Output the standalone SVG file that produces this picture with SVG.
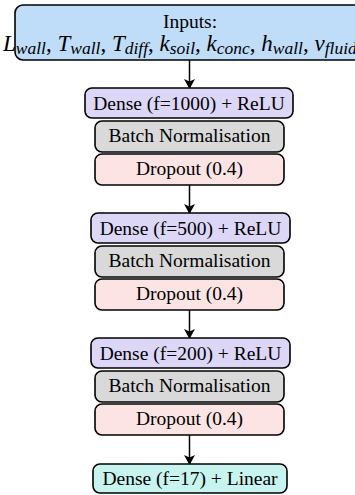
<svg xmlns="http://www.w3.org/2000/svg" width="355" height="495" viewBox="0 0 355 495">
  <defs>
    <marker id="arrow" markerWidth="10" markerHeight="11" refX="9" refY="5.5" orient="auto" markerUnits="userSpaceOnUse">
      <path d="M0,0 L10,5.5 L0,11 L2.5,5.5 Z" fill="#000"/>
    </marker>
    <style>
      .box { stroke: #000; stroke-width: 1.6; }
      .inp { fill: #bfdcf8; }
      .dense { fill: #dcd7f7; }
      .bn { fill: #d9d9d9; }
      .drop { fill: #fde4e4; }
      .out { fill: #c8f4ef; }
      .lbl { font-size: 19.5px; fill: #000; text-anchor: middle; }
      .math { font-size: 23px; fill: #000; text-anchor: start; }
      .it { font-style: italic; }
      .sub { font-style: italic; font-size: 17.5px; }
      .conn line { stroke: #000; stroke-width: 1.5; marker-end: url(#arrow); }
    </style>
  </defs>
  <rect width="355" height="495" fill="#fff"/>

  <g class="conn">
    <line x1="189.5" y1="60" x2="189.5" y2="88"/>
    <line x1="189.5" y1="185" x2="189.5" y2="213"/>
    <line x1="189.5" y1="310" x2="189.5" y2="338"/>
    <line x1="189.5" y1="435" x2="189.5" y2="464"/>
  </g>

  <g font-family="'Liberation Serif', 'Times New Roman', serif">
    <g id="inputs">
      <rect class="box inp" x="15" y="5" width="352" height="55" rx="8"/>
      <text class="lbl" x="190" y="28">Inputs:</text>
      <text class="math" x="3" y="50.5"><tspan class="it">L</tspan><tspan class="sub" dy="3.5">wall</tspan><tspan dy="-3.5">, </tspan><tspan class="it">T</tspan><tspan class="sub" dy="3.5">wall</tspan><tspan dy="-3.5">, </tspan><tspan class="it">T</tspan><tspan class="sub" dy="3.5">diff</tspan><tspan dy="-3.5">, </tspan><tspan class="it">k</tspan><tspan class="sub" dy="3.5">soil</tspan><tspan dy="-3.5">, </tspan><tspan class="it">k</tspan><tspan class="sub" dy="3.5">conc</tspan><tspan dy="-3.5">, </tspan><tspan class="it">h</tspan><tspan class="sub" dy="3.5">wall</tspan><tspan dy="-3.5">, </tspan><tspan class="it">v</tspan><tspan class="sub" dy="3.5">fluid</tspan></text>
    </g>

    <g id="dense1">
      <rect class="box dense" x="85" y="88" width="208" height="30" rx="7"/>
      <text class="lbl" x="189" y="109.5">Dense (f=1000) + ReLU</text>
    </g>
    <g id="bn1">
      <rect class="box bn" x="95" y="121" width="189" height="31" rx="7"/>
      <text class="lbl" x="189.5" y="142">Batch Normalisation</text>
    </g>
    <g id="drop1">
      <rect class="box drop" x="95" y="154" width="189" height="31" rx="7"/>
      <text class="lbl" x="189.5" y="175">Dropout (0.4)</text>
    </g>

    <g id="dense2">
      <rect class="box dense" x="91" y="213" width="199" height="30" rx="7"/>
      <text class="lbl" x="190.5" y="234.5">Dense (f=500) + ReLU</text>
    </g>
    <g id="bn2">
      <rect class="box bn" x="95" y="246" width="189" height="31" rx="7"/>
      <text class="lbl" x="189.5" y="267">Batch Normalisation</text>
    </g>
    <g id="drop2">
      <rect class="box drop" x="95" y="279" width="189" height="31" rx="7"/>
      <text class="lbl" x="189.5" y="300">Dropout (0.4)</text>
    </g>

    <g id="dense3">
      <rect class="box dense" x="91" y="338" width="199" height="30" rx="7"/>
      <text class="lbl" x="190.5" y="359.5">Dense (f=200) + ReLU</text>
    </g>
    <g id="bn3">
      <rect class="box bn" x="95" y="371" width="189" height="31" rx="7"/>
      <text class="lbl" x="189.5" y="392">Batch Normalisation</text>
    </g>
    <g id="drop3">
      <rect class="box drop" x="95" y="404" width="189" height="31" rx="7"/>
      <text class="lbl" x="189.5" y="425">Dropout (0.4)</text>
    </g>

    <g id="output">
      <rect class="box out" x="93" y="464" width="194" height="29" rx="7"/>
      <text class="lbl" x="190" y="485">Dense (f=17) + Linear</text>
    </g>
  </g>
</svg>
